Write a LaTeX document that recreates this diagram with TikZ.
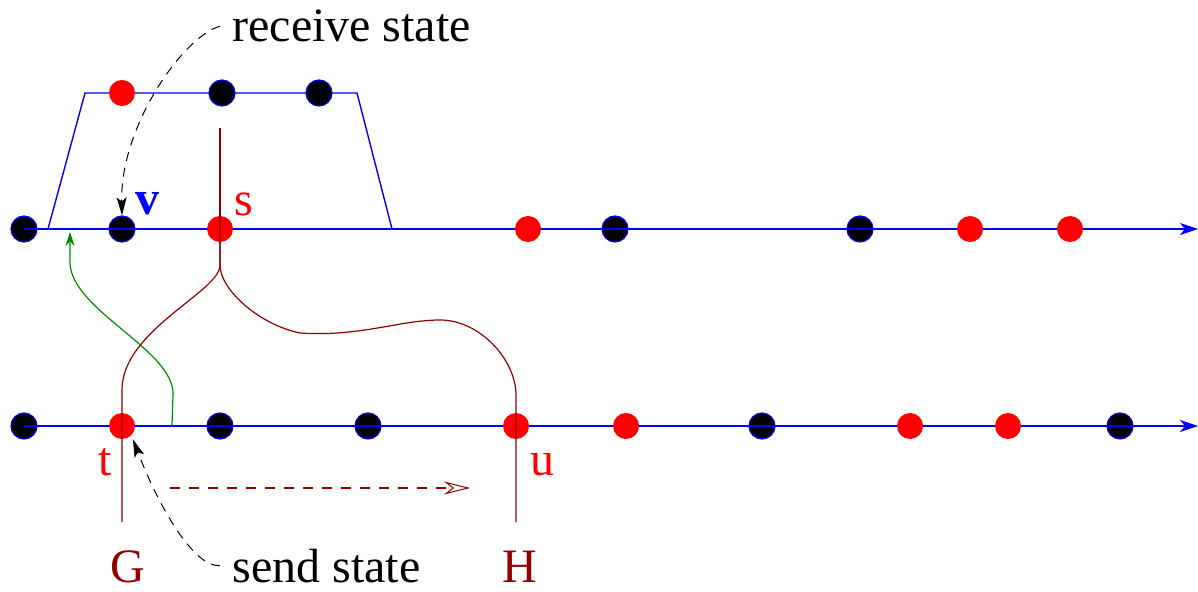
\documentclass[tikz,border=0pt]{standalone}
\usepackage{fontspec}
\setmainfont{Liberation Serif}
\newfontfamily\figfont{Liberation Serif}
\usepackage{xcolor}
\usetikzlibrary{arrows.meta,positioning}
\definecolor{procblue}{RGB}{0,0,255}
\definecolor{staterd}{RGB}{255,0,0}
\definecolor{msgred}{RGB}{144,0,0}
\definecolor{ackgreen}{RGB}{0,140,0}

\begin{document}
\begin{tikzpicture}[x=0.5pt,y=-0.5pt,>=Stealth,
  bdot/.style={circle,fill=black,draw=procblue,line width=0.6pt,minimum size=13pt,inner sep=0pt},
  rdot/.style={circle,fill=staterd,minimum size=13pt,inner sep=0pt},
  tline/.style={procblue,line width=1pt,-{Stealth[length=9pt,width=6pt,inset=2.5pt]}},
  msg/.style={msgred,line width=0.6pt},
  hint/.style={black,line width=0.5pt,dash pattern=on 4.5pt off 3.5pt,-{Stealth[length=9pt,width=5pt,inset=2pt]}},
  txt/.style={font=\figfont\fontsize{24}{28}\selectfont,inner xsep=6pt,inner ysep=0pt,anchor=base west},
  tag/.style={font=\figfont\fontsize{24}{28}\selectfont,inner sep=0pt,anchor=base west}]
  \useasboundingbox (0,0) rectangle (1198,592);
  % snapshot window above the first process
  \draw[procblue,line width=0.7pt] (48,229) -- (85,93) -- (357,93) -- (392,229);
  % black (ordinary) states
  \node[bdot] (a0) at (24,229) {};
  \node[bdot] (v)  at (122,229) {};
  \node[bdot] (a4) at (615,229) {};
  \node[bdot] (a5) at (860,229) {};
  \node[bdot] (c2) at (222,93) {};
  \node[bdot] (c3) at (319,93) {};
  \node[bdot] (b0) at (24,426) {};
  \node[bdot] (b2) at (220,426) {};
  \node[bdot] (b3) at (368,426) {};
  \node[bdot] (b6) at (762,426) {};
  \node[bdot] (b9) at (1120,426) {};
  % process time lines
  \coordinate (aend) at (1198,229);
  \coordinate (bend) at (1198,426);
  \draw[tline] (a0.center) -- (aend);
  \draw[tline] (b0.center) -- (bend);
  % red (send/receive) states
  \node[rdot] (c1) at (122,93) {};
  \node[rdot] (s)  at (220,229) {};
  \node[rdot] (a3) at (528,229) {};
  \node[rdot] (a6) at (970,229) {};
  \node[rdot] (a7) at (1070,229) {};
  \node[rdot] (t)  at (122,426) {};
  \node[rdot] (u)  at (516,426) {};
  \node[rdot] (b5) at (626,426) {};
  \node[rdot] (b7) at (910,426) {};
  \node[rdot] (b8) at (1008,426) {};
  % messages between the processes
  \coordinate (stop) at (220,128);
  \coordinate (gend) at (122,522);
  \coordinate (hend) at (516,522);
  \draw[msg] (stop) -- (s.center);
  \draw[msg] (s.center) -- (220,265) .. controls (220,292) and (122,330) .. (122,390)
    -- (t.center) -- (gend);
  \draw[msg] (s.center) -- (220,265) .. controls (220,290) and (260,325) .. (300,333)
    .. controls (360,337) and (400,320) .. (440,320)
    .. controls (480,320) and (516,360) .. (516,395) -- (u.center) -- (hend);
  % acknowledgement back to the first process
  \coordinate (ack0) at (172,426);
  \coordinate (ack1) at (70,232);
  \draw[ackgreen,line width=0.6pt,-{Stealth[length=7pt,width=4.5pt]}] (ack0) -- (173,395)
    .. controls (175,350) and (70,310) .. (70,262) -- (ack1);
  % forward direction
  \coordinate (d0) at (170,488);
  \coordinate (d1) at (470,488);
  \draw[msgred,line width=0.5pt,dash pattern=on 5pt off 4.5pt,-{Stealth[open,length=13pt,width=6.5pt]}] (d0) -- (d1);
  % state labels
  \node[tag,procblue,font=\figfont\fontsize{24}{28}\selectfont\bfseries] (vl) at (135,215) {v};
  \node[tag,staterd] (sl) at (234,216) {s};
  \node[tag,staterd] (tl) at (98,475) {t};
  \node[tag,staterd] (ul) at (530,475) {u};
  \node[tag,msgred,anchor=base] (G) at (128,582) {G};
  \node[tag,msgred,anchor=base] (H) at (520,582) {H};
  % receive / send state pointers
  \node[txt] (recv) at (220,42) {receive state};
  \node[txt] (send) at (220,582) {send state};
  \draw[hint] (recv.west) .. controls (185,35) and (120,125) .. (v.north);
  \draw[hint,shorten >=2pt] (send.west) .. controls (195,568) and (160,510) .. (t.south east);
\end{tikzpicture}
\end{document}
